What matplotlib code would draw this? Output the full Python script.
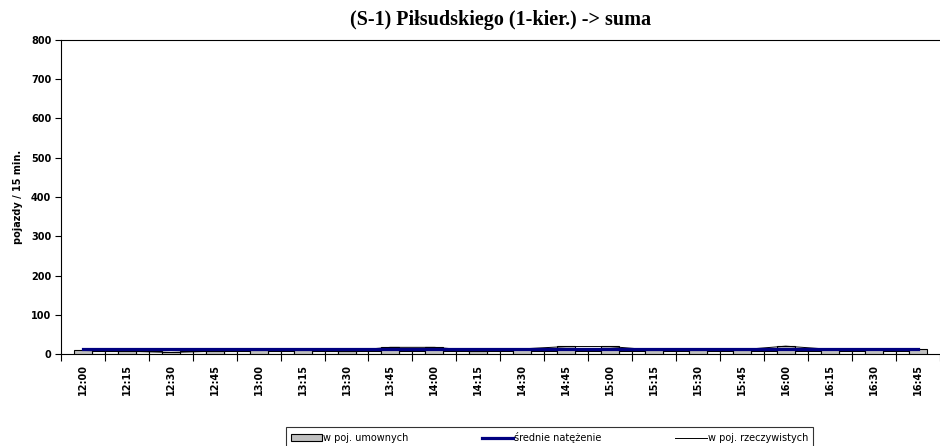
import numpy as np
import matplotlib.pyplot as plt

# dane z wykresu (S-1) Pilsudskiego
godziny = ["12:00", "12:15", "12:30", "12:45", "13:00", "13:15", "13:30", "13:45",
           "14:00", "14:15", "14:30", "14:45", "15:00", "15:15", "15:30", "15:45",
           "16:00", "16:15", "16:30", "16:45"]
umowne = [9, 7, 4, 7, 10, 10, 8, 17, 17, 8, 13, 20, 20, 10, 10, 11, 21, 12, 12, 14]
rzeczywiste = [9, 7, 4, 7, 10, 10, 8, 17, 17, 8, 13, 19, 19, 10, 10, 11, 20, 12, 12, 14]
srednie = [13.5] * 20
tlo = [8] * 19   # biale slupki pomiedzy

x = np.arange(len(godziny))

fig = plt.figure(figsize=(9.4, 4.46), dpi=100)
ax = fig.add_axes([61/940, 92/446, 1 - 61/940 - 0.5/940, 314/446])

bw = 0.41
hw = (1 - bw) / 2
xb = np.arange(len(tlo)) + 0.5
ax.bar(xb - hw/2, tlo, width=hw, color="white", edgecolor="black", linewidth=0.8, zorder=2)
ax.bar(xb + hw/2, tlo, width=hw, color="white", edgecolor="black", linewidth=0.8, zorder=2)
ax.bar(x, umowne, width=bw, color="#c0c0c0", edgecolor="black", linewidth=0.8, zorder=3,
       label="w poj. umownych")
ax.plot(x, srednie, color="#000080", linewidth=2.3, zorder=5, label="średnie natężenie")
ax.plot(x, rzeczywiste, color="black", linewidth=0.7, zorder=4, label="w poj. rzeczywistych")

ax.set_xlim(-0.5, 19.5)
ax.set_ylim(0, 800)
ax.set_yticks(range(0, 801, 100))
ax.set_xticks(x)
ax.set_xticklabels(godziny, rotation=90, fontsize=7, fontweight="bold")
ax.set_xticks(np.arange(-0.5, 20, 1), minor=True)
ax.tick_params(axis="x", which="major", length=0, pad=7)
ax.tick_params(axis="x", which="minor", length=5, width=0.8, direction="out")
ax.tick_params(axis="y", length=4, width=0.8, labelsize=7, pad=3)
for t in ax.get_yticklabels():
    t.set_fontweight("bold")
ax.spines["right"].set_visible(False)
for s in ["left", "bottom", "top"]:
    ax.spines[s].set_linewidth(0.8)

ax.set_ylabel("pojazdy / 15 min.", fontsize=7, fontweight="bold", labelpad=6)
ax.set_title("(S-1) Piłsudskiego (1-kier.) -> suma", fontsize=14.5, fontweight="bold",
             family="Liberation Serif", pad=11)

h, l = ax.get_legend_handles_labels()
order = [2, 0, 1]
leg = fig.legend([h[i] for i in order], [l[i] for i in order], loc="lower left",
                 bbox_to_anchor=(281/940, -0.015), ncol=3, fontsize=7, frameon=True,
                 fancybox=False, edgecolor="black", handlelength=3.2, handletextpad=0.1,
                 columnspacing=7.6, borderpad=0.5)
leg.get_frame().set_linewidth(0.8)

fig.savefig("out.png", dpi=100)
